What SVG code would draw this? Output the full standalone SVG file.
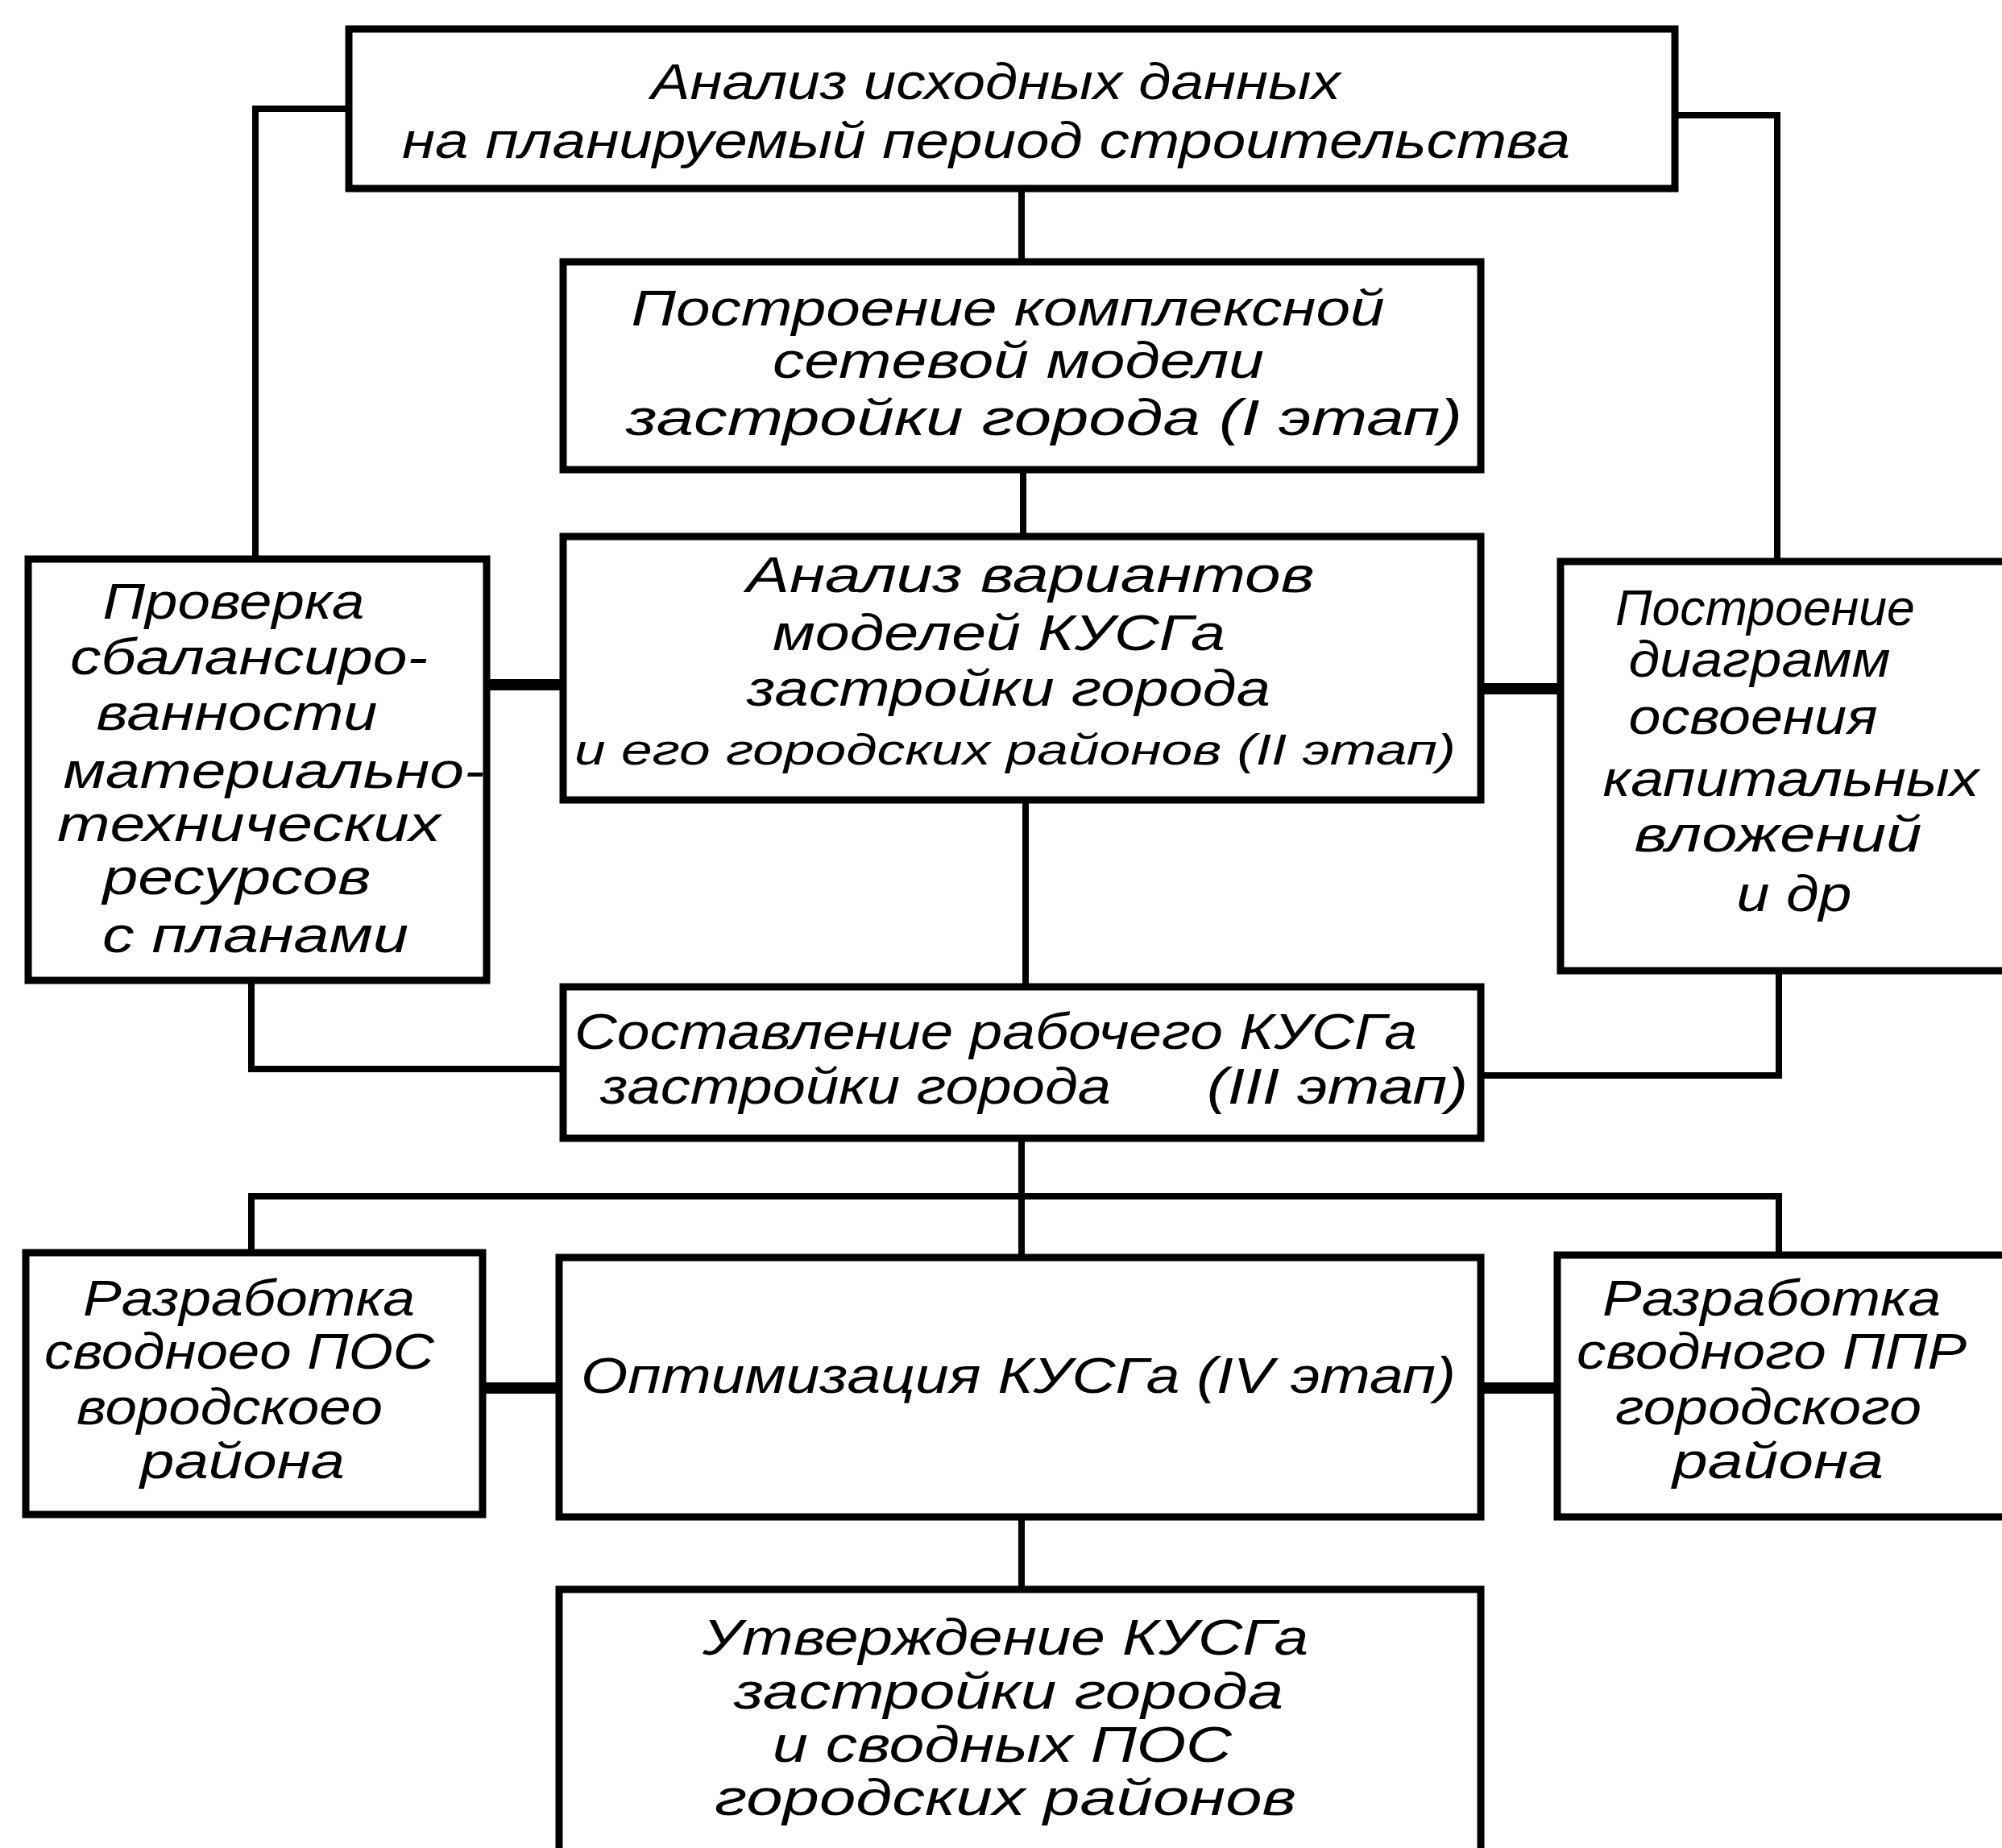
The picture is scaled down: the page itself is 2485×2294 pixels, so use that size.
<svg xmlns="http://www.w3.org/2000/svg" width="2485" height="2294" viewBox="0 0 2485 2294">
<style>
.box{fill:#fff;stroke:#000;stroke-width:9}
.c{fill:none;stroke:#000;stroke-width:8;stroke-linejoin:miter}
.t{stroke:#000;stroke-width:14;fill:none}
text{font-family:"Liberation Sans","DejaVu Sans",sans-serif;font-style:italic;font-size:63px;fill:#000;text-anchor:middle}
.s{font-size:54px}
</style>
<rect width="2485" height="2294" fill="#fff"/>
<g id="connectors">
<path class="c" d="M1268,234 V325"/>
<path class="c" d="M1270,583 V666"/>
<path class="c" d="M1273,993 V1225"/>
<path class="c" d="M433,135 H317 V694"/>
<path class="c" d="M2079,143 H2206 V697"/>
<path class="t" d="M604,850 H699"/>
<path class="t" d="M1838,855 H1937"/>
<path class="c" d="M312,1217 V1327 H699"/>
<path class="c" d="M2208,1205 V1335 H1838"/>
<path class="c" d="M1268,1413 V1561"/>
<path class="c" d="M312,1555 V1485 H2208 V1558"/>
<path class="t" d="M599,1723 H694"/>
<path class="t" d="M1838,1723 H1933"/>
<path class="c" d="M1268,1883 V1973"/>
</g>
<g id="n1">
<rect class="box" x="433" y="36" width="1646" height="198"/>
<text x="1236" y="123" textLength="856" lengthAdjust="spacingAndGlyphs">Анализ  исходных  данных</text>
<text x="1224" y="196" textLength="1450" lengthAdjust="spacingAndGlyphs">на  планируемый  период  строительства</text>
</g>
<g id="n2">
<rect class="box" x="699" y="325" width="1139" height="258"/>
<text x="1251" y="404" textLength="935" lengthAdjust="spacingAndGlyphs">Построение  комплексной</text>
<text x="1264" y="469" textLength="610" lengthAdjust="spacingAndGlyphs">сетевой  модели</text>
<text x="1296" y="540" textLength="1038" lengthAdjust="spacingAndGlyphs">застройки  города  (I  этап)</text>
</g>
<g id="n3">
<rect class="box" x="699" y="666" width="1139" height="327"/>
<text x="1279" y="735" textLength="705" lengthAdjust="spacingAndGlyphs">Анализ  вариантов</text>
<text x="1240" y="807" textLength="562" lengthAdjust="spacingAndGlyphs">моделей  КУСГа</text>
<text x="1252" y="876" textLength="650" lengthAdjust="spacingAndGlyphs">застройки  города</text>
<text class="s" x="1260" y="949" textLength="1094" lengthAdjust="spacingAndGlyphs">и его городских районов (II этап)</text>
</g>
<g id="n4">
<rect class="box" x="35" y="694" width="569" height="523"/>
<text x="290" y="768" textLength="325" lengthAdjust="spacingAndGlyphs">Проверка</text>
<text x="309" y="837" textLength="444" lengthAdjust="spacingAndGlyphs">сбалансиро-</text>
<text x="294" y="906" textLength="349" lengthAdjust="spacingAndGlyphs">ванности</text>
<text x="340" y="978" textLength="523" lengthAdjust="spacingAndGlyphs">материально-</text>
<text x="309" y="1044" textLength="476" lengthAdjust="spacingAndGlyphs">технических</text>
<text x="294" y="1110" textLength="333" lengthAdjust="spacingAndGlyphs">ресурсов</text>
<text x="317" y="1182" textLength="380" lengthAdjust="spacingAndGlyphs">с  планами</text>
</g>
<g id="n5">
<rect class="box" x="1937" y="697" width="560" height="508"/>
<text x="2191" y="776" textLength="372" lengthAdjust="spacingAndGlyphs">Построение</text>
<text x="2184" y="840" textLength="325" lengthAdjust="spacingAndGlyphs">диаграмм</text>
<text x="2176" y="911" textLength="309" lengthAdjust="spacingAndGlyphs">освоения</text>
<text x="2223" y="988" textLength="467" lengthAdjust="spacingAndGlyphs">капитальных</text>
<text x="2207" y="1057" textLength="357" lengthAdjust="spacingAndGlyphs">вложений</text>
<text x="2227" y="1131" textLength="143" lengthAdjust="spacingAndGlyphs">и  др</text>
</g>
<g id="n6">
<rect class="box" x="699" y="1225" width="1139" height="188"/>
<text x="1236" y="1302" textLength="1046" lengthAdjust="spacingAndGlyphs">Составление  рабочего  КУСГа</text>
<text x="1062" y="1370" textLength="634" lengthAdjust="spacingAndGlyphs">застройки  города</text>
<text x="1660" y="1370" textLength="324" lengthAdjust="spacingAndGlyphs">(III  этап)</text>
</g>
<g id="n7">
<rect class="box" x="32" y="1555" width="567" height="325"/>
<text x="309" y="1633" textLength="412" lengthAdjust="spacingAndGlyphs">Разработка</text>
<text x="297" y="1699" textLength="484" lengthAdjust="spacingAndGlyphs">сводноео  ПОС</text>
<text x="285" y="1768" textLength="380" lengthAdjust="spacingAndGlyphs">вородскоео</text>
<text x="301" y="1835" textLength="254" lengthAdjust="spacingAndGlyphs">района</text>
</g>
<g id="n8">
<rect class="box" x="694" y="1561" width="1144" height="322"/>
<text x="1264" y="1729" textLength="1086" lengthAdjust="spacingAndGlyphs">Оптимизация  КУСГа  (IV  этап)</text>
</g>
<g id="n9">
<rect class="box" x="1933" y="1558" width="564" height="325"/>
<text x="2199" y="1633" textLength="420" lengthAdjust="spacingAndGlyphs">Разработка</text>
<text x="2199" y="1699" textLength="484" lengthAdjust="spacingAndGlyphs">сводного  ППР</text>
<text x="2195" y="1768" textLength="380" lengthAdjust="spacingAndGlyphs">городского</text>
<text x="2207" y="1835" textLength="262" lengthAdjust="spacingAndGlyphs">района</text>
</g>
<g id="n10">
<rect class="box" x="694" y="1973" width="1144" height="340"/>
<text x="1248" y="2054" textLength="752" lengthAdjust="spacingAndGlyphs">Утверждение  КУСГа</text>
<text x="1252" y="2121" textLength="682" lengthAdjust="spacingAndGlyphs">застройки  города</text>
<text x="1244" y="2187" textLength="570" lengthAdjust="spacingAndGlyphs">и  сводных  ПОС</text>
<text x="1248" y="2253" textLength="722" lengthAdjust="spacingAndGlyphs">городских  районов</text>
</g>
</svg>
